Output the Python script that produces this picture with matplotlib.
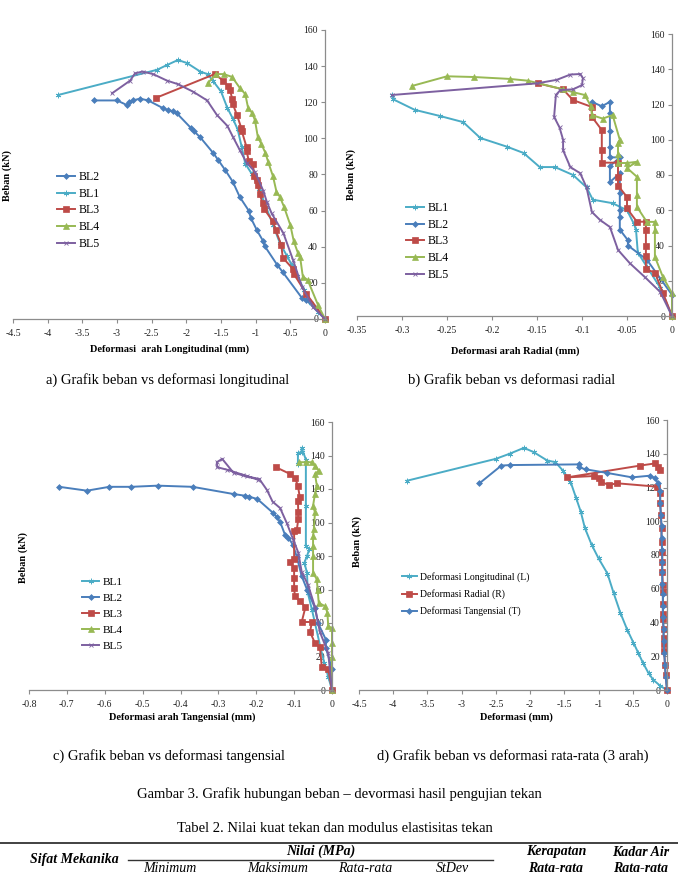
import matplotlib
matplotlib.use('Agg')
import matplotlib.pyplot as plt
from matplotlib.lines import Line2D

plt.rcParams['font.family'] = ['Liberation Serif', 'DejaVu Serif']

# ---- colours (Excel 2007 defaults)
c_blue = '#4a7ebb'
c_cyan = '#4bacc6'
c_red = '#be4b48'
c_green = '#98b954'
c_purple = '#7d60a0'

y_ticks = [0, 20, 40, 60, 80, 100, 120, 140, 160]

# ---- a) longitudinal
a_xticks = [-4.5, -4, -3.5, -3, -2.5, -2, -1.5, -1, -0.5, 0]
a_bl2_x = [-3.33, -3.0, -2.86, -2.83, -2.77, -2.67, -2.55, -2.34, -2.27, -2.19, -2.14, -1.93, -1.89, -1.8,
           -1.61, -1.54, -1.44, -1.33, -1.23, -1.1, -1.07, -0.98, -0.89, -0.87, -0.69, -0.61, -0.33, -0.27, 0]
a_bl2_y = [121, 121, 118.5, 120, 121, 122, 121, 116.8, 115.7, 115, 114, 105.6, 104, 100.6,
           91.8, 88, 82.5, 76, 67.6, 60, 56, 49, 43, 40.4, 30, 26, 11.5, 10.5, 0]
a_bl1_x = [-3.85, -2.42, -2.28, -2.12, -1.99, -1.8, -1.69, -1.62, -1.5, -1.41, -1.33, -1.26, -1.2, -1.15,
           -1.05, -0.95, -0.85, -0.75, -0.65, -0.55, -0.48, -0.4, -0.3, -0.2, -0.1, 0]
a_bl1_y = [124, 138, 140.6, 143.4, 141.7, 137, 135.5, 132, 126, 117, 111, 105, 95, 86,
           80, 72, 62, 52, 42, 35, 30, 24, 16, 9, 4, 0]
a_bl3_x = [-2.44, -1.59, -1.47, -1.4, -1.37, -1.34, -1.33, -1.27, -1.21, -1.2, -1.13, -1.13, -1.1, -1.04,
           -1.02, -0.98, -0.97, -0.94, -0.9, -0.88, -0.75, -0.71, -0.63, -0.61, -0.46, -0.45, -0.27, 0]
a_bl3_y = [122.4, 135.6, 132, 129, 127, 122, 119, 113, 106, 104, 95, 93, 87.5, 86,
           79, 77, 74, 69, 64, 61, 54, 49, 41, 34, 27.6, 25, 14, 0]
a_bl4_x = [-1.69, -1.57, -1.46, -1.34, -1.23, -1.15, -1.11, -1.05, -1.01, -0.97, -0.92, -0.86, -0.82,
           -0.75, -0.7, -0.65, -0.59, -0.5, -0.45, -0.39, -0.36, -0.32, -0.25, -0.1, 0]
a_bl4_y = [130.6, 135.6, 135.6, 134, 128, 124.5, 117, 114, 110, 101, 97, 92, 87,
           79, 70.5, 67.6, 62, 52, 43, 36.5, 34.6, 23.5, 21.6, 7.7, 0]
a_bl5_x = [-3.07, -2.81, -2.74, -2.63, -2.48, -2.28, -2.12, -1.9, -1.7, -1.56, -1.41, -1.33, -1.23,
           -1.13, -1.01, -0.89, -0.84, -0.77, -0.6, -0.46, -0.33, -0.17, 0]
a_bl5_y = [125, 132, 136, 137, 135.6, 132, 130, 125.8, 121, 113, 107, 101, 93.6,
           86.5, 81.5, 71, 65, 58.5, 47.5, 32.6, 17.7, 6.6, 0]

# ---- b) radial
b_xticks = [-0.35, -0.3, -0.25, -0.2, -0.15, -0.1, -0.05, 0]
b_bl1_x = [-0.311, -0.31, -0.286, -0.258, -0.232, -0.213, -0.183, -0.165, -0.147, -0.13, -0.11, -0.095,
           -0.088, -0.066, -0.05, -0.042, -0.04, -0.038, -0.028, -0.013, 0]
b_bl1_y = [125.4, 123, 117, 113.5, 110, 101, 96, 92.5, 84.5, 84.5, 80, 73,
           66, 64, 60, 52, 49, 36, 28, 16, 0]
b_bl2_x = [0, 0, -0.028, -0.049, -0.049, -0.058, -0.058, -0.058, -0.058, -0.058, -0.069, -0.069, -0.058,
           -0.069, -0.069, -0.069, -0.069, -0.069, -0.078, -0.089]
b_bl2_y = [0, 12, 32, 40, 43, 49, 56, 60, 70, 81, 76, 85, 90,
           90, 96, 105, 115, 121.5, 119, 121.5]
b_bl3_x = [-0.149, -0.121, -0.11, -0.089, -0.089, -0.078, -0.078, -0.078, -0.06, -0.06, -0.06, -0.05,
           -0.05, -0.039, -0.029, -0.029, -0.029, -0.029, -0.029, -0.019, -0.01, 0]
b_bl3_y = [132, 128.6, 122.5, 118.6, 113, 105.5, 94, 87, 87, 79, 74, 67.5,
           61, 53.5, 53.5, 49, 40, 34, 26.6, 24.6, 13, 0]
b_bl4_x = [-0.289, -0.25, -0.22, -0.18, -0.16, -0.121, -0.11, -0.097, -0.09, -0.089, -0.077, -0.066,
           -0.058, -0.06, -0.06, -0.06, -0.05, -0.039, -0.05, -0.039, -0.039, -0.039, -0.028, -0.019,
           -0.019, -0.019, -0.01, 0, 0]
b_bl4_y = [130.5, 136, 135.6, 134.5, 133.5, 128.6, 127, 125.4, 119, 114, 112, 114,
           100, 98, 92, 86.8, 86.8, 87.5, 84, 79, 68.6, 62, 53.4, 53.4,
           49, 33.6, 22, 13, 0]
b_bl5_x = [-0.311, -0.15, -0.128, -0.113, -0.102, -0.099, -0.1, -0.11, -0.124, -0.129, -0.131, -0.125,
           -0.121, -0.121, -0.113, -0.102, -0.095, -0.089, -0.08, -0.069, -0.06, -0.047, -0.03, -0.013, 0]
b_bl5_y = [125.4, 132, 134, 137, 137.3, 135, 131, 128.6, 128.2, 125.4, 113, 107,
           100, 94, 84.5, 81, 73, 59, 54.5, 50.5, 37.5, 30, 22, 13.6, 0]

# ---- c) tangential
c_xticks = [-0.8, -0.7, -0.6, -0.5, -0.4, -0.3, -0.2, -0.1, 0]
c_bl1_x = [0, -0.01, -0.02, -0.03, -0.045, -0.053, -0.064, -0.066, -0.073, -0.066, -0.06, -0.069,
           -0.069, -0.069, -0.08, -0.08, -0.09, -0.09]
c_bl1_y = [0, 8, 16, 25, 40, 48, 58, 70, 76, 80, 84, 86,
           110, 137.5, 144.6, 142, 141.6, 135]
c_bl2_x = [-0.72, -0.647, -0.588, -0.53, -0.46, -0.368, -0.26, -0.23, -0.22, -0.197, -0.156, -0.145,
           -0.137, -0.124, -0.115, -0.103, -0.093, -0.08, -0.066, -0.045, -0.037, -0.016, -0.016, 0, 0]
c_bl2_y = [121.3, 119, 121.3, 121.3, 122, 121.3, 117, 116, 115.5, 114, 105.8, 103,
           100.4, 92.6, 90.8, 86.7, 79.5, 68, 60, 49, 40, 30, 25, 12.6, 0]
c_bl3_x = [-0.148, -0.111, -0.098, -0.09, -0.085, -0.09, -0.089, -0.089, -0.093, -0.1, -0.1, -0.111,
           -0.1, -0.1, -0.1, -0.098, -0.085, -0.07, -0.08, -0.053, -0.058, -0.045, -0.032, -0.027, -0.01, 0]
c_bl3_y = [133, 129, 126.7, 122, 115, 113, 106, 102, 95.6, 95, 78, 76.5,
           73, 67, 61, 56, 53, 49.6, 40.6, 40.6, 34.7, 28, 25.7, 13.7, 12.5, 0]
c_bl4_x = [0, 0, 0, 0, -0.01, -0.012, -0.018, -0.035, -0.038, -0.04, -0.05, -0.05, -0.05,
           -0.05, -0.048, -0.045, -0.05, -0.045, -0.04, -0.045, -0.035, -0.045, -0.053, -0.069, -0.087]
c_bl4_y = [0, 20, 28, 37, 38, 46, 50, 52, 60, 66, 70, 80, 86,
           92, 96, 106, 110, 117, 122, 129, 131, 134, 136, 136, 136]
c_bl5_x = [0, -0.01, -0.032, -0.045, -0.063, -0.08, -0.089, -0.102, -0.12, -0.137, -0.157, -0.172,
           -0.192, -0.225, -0.26, -0.29, -0.304, -0.303, -0.277, -0.235, -0.195]
c_bl5_y = [0, 22, 34.7, 49.6, 62.6, 70.5, 82, 89.6, 100, 108.6, 112.5, 119.5,
           126, 127.5, 129.7, 138, 136, 133, 131.5, 128.5, 125.5]

# ---- d) average of 3 directions
d_xticks = [-4.5, -4, -3.5, -3, -2.5, -2, -1.5, -1, -0.5, 0]
d_long_x = [-3.8, -2.5, -2.3, -2.09, -1.95, -1.75, -1.63, -1.52, -1.41, -1.33, -1.26, -1.2, -1.1,
            -1.0, -0.87, -0.78, -0.68, -0.58, -0.49, -0.42, -0.35, -0.27, -0.2, -0.1, 0]
d_long_y = [124, 137, 140, 143.5, 141, 136, 135, 130, 123.5, 114, 105.7, 96, 86,
            78, 69, 57.5, 45.6, 35.6, 28, 22, 16, 10, 6, 2.5, 0]
d_rad_x = [0, -0.02, -0.03, -0.04, -0.05, -0.05, -0.05, -0.06, -0.06, -0.06, -0.06, -0.06, -0.07,
           -0.07, -0.07, -0.08, -0.08, -0.09, -0.1, -0.1, -0.15, -0.73, -0.85, -0.97, -1.0, -1.07,
           -1.46, -0.39, -0.17, -0.13, -0.1]
d_rad_y = [0, 9, 15, 23, 27, 31, 36, 42, 45, 51, 58, 62, 70,
           76, 82, 88, 96, 104, 111, 117, 120.5, 122.5, 121.5, 123.4, 125.4, 126.8,
           126, 133, 134.3, 132.3, 130.4]
d_tan_x = [-2.74, -2.42, -2.29, -1.29, -1.29, -1.19, -0.87, -0.51, -0.25, -0.17, -0.13, -0.1, -0.1,
           -0.09, -0.08, -0.08, -0.07, -0.07, -0.07, -0.07, -0.06, -0.06, -0.06, -0.05, -0.05, -0.04,
           -0.03, -0.02, 0]
d_tan_y = [122.5, 133, 133.3, 133.7, 132, 130.8, 128.6, 126, 127, 125.4, 122.5, 118, 111,
           104, 97, 90, 83, 76, 70, 63, 57, 50, 43, 36, 29, 22,
           15, 8, 0]

W, H = 678.0, 876.0
fig = plt.figure(figsize=(6.78, 8.76), dpi=100)


def px_axes(x0, y0, x1, y1):
    # pixel box (top-left origin) -> figure axes
    return fig.add_axes([x0 / W, 1 - y1 / H, (x1 - x0) / W, (y1 - y0) / H])


def setup(ax, xticks, xlabel, xl_pos, yl_pos):
    ax.set_xlim(xticks[0], 0)
    ax.set_ylim(0, 160)
    ax.spines['top'].set_visible(False)
    ax.spines['right'].set_visible(False)
    ax.spines['left'].set_position(('data', 0))
    for s in ('left', 'bottom'):
        ax.spines[s].set_color('#8c8c8c')
        ax.spines[s].set_linewidth(0.9)
    ax.set_xticks(xticks)
    ax.set_xticklabels(['%g' % t for t in xticks])
    ax.set_yticks(y_ticks)
    ax.set_yticklabels([str(t) for t in y_ticks])
    ax.tick_params(axis='both', labelsize=7, length=3, width=0.8, color='#8c8c8c', labelcolor='#222222')
    ax.tick_params(axis='x', pad=4)
    ax.tick_params(axis='y', pad=2)
    ax.set_axisbelow(True)
    ax.set_facecolor('none')
    ax.set_xlabel(xlabel, fontsize=7.5, fontweight='bold', va='center')
    ax.xaxis.set_label_coords(*xl_pos)
    ax.set_ylabel('Beban (kN)', fontsize=7.5, fontweight='bold', va='center')
    ax.yaxis.set_label_coords(*yl_pos)


styles = {
    'BL1': dict(color=c_cyan, marker=(6, 2, 0), ms=4, mew=0.6),
    'BL2': dict(color=c_blue, marker='D', ms=3, mew=0.5),
    'BL3': dict(color=c_red, marker='s', ms=4.5, mew=0.5),
    'BL4': dict(color=c_green, marker='^', ms=4.5, mew=0.5),
    'BL5': dict(color=c_purple, marker='x', ms=3.5, mew=0.6),
}


def series(ax, x, y, name, label=None):
    ax.plot(x, y, lw=1.4, label=label or name, clip_on=False, **styles[name])


def legend(ax, order, left_px, top_px, fs=8, spacing=0.45):
    h, l = ax.get_legend_handles_labels()
    d = dict(zip(l, h))
    ax.legend([d[k] for k in order], order, loc='upper left',
              bbox_to_anchor=(left_px / W, 1 - top_px / H), bbox_transform=fig.transFigure,
              frameon=False, fontsize=fs, handlelength=1.5, handletextpad=0.3,
              labelspacing=spacing, borderpad=0, borderaxespad=0, numpoints=1)


# a)
ax_a = px_axes(13, 30, 325, 319)
setup(ax_a, a_xticks, 'Deformasi  arah Longitudinal (mm)', (0.503, -0.104), (-0.019, 0.498))
series(ax_a, a_bl2_x, a_bl2_y, 'BL2')
series(ax_a, a_bl1_x, a_bl1_y, 'BL1')
series(ax_a, a_bl3_x, a_bl3_y, 'BL3')
series(ax_a, a_bl4_x, a_bl4_y, 'BL4')
series(ax_a, a_bl5_x, a_bl5_y, 'BL5')
legend(ax_a, ['BL2', 'BL1', 'BL3', 'BL4', 'BL5'], 57, 171, fs=8.5, spacing=0.4)

# b)
ax_b = px_axes(357, 34, 672, 316)
setup(ax_b, b_xticks, 'Deformasi arah Radial (mm)', (0.5016, -0.124), (-0.019, 0.5))
series(ax_b, b_bl1_x, b_bl1_y, 'BL1')
series(ax_b, b_bl2_x, b_bl2_y, 'BL2')
series(ax_b, b_bl3_x, b_bl3_y, 'BL3')
series(ax_b, b_bl4_x, b_bl4_y, 'BL4')
series(ax_b, b_bl5_x, b_bl5_y, 'BL5')
legend(ax_b, ['BL1', 'BL2', 'BL3', 'BL4', 'BL5'], 406, 202, fs=8.5, spacing=0.4)

# c)
ax_c = px_axes(29, 422, 332, 690)
setup(ax_c, c_xticks, 'Deformasi arah Tangensial (mm)', (0.505, -0.10), (-0.02, 0.496))
series(ax_c, c_bl1_x, c_bl1_y, 'BL1')
series(ax_c, c_bl2_x, c_bl2_y, 'BL2')
series(ax_c, c_bl3_x, c_bl3_y, 'BL3')
series(ax_c, c_bl4_x, c_bl4_y, 'BL4')
series(ax_c, c_bl5_x, c_bl5_y, 'BL5')
legend(ax_c, ['BL1', 'BL2', 'BL3', 'BL4', 'BL5'], 82, 577, fs=8.2, spacing=0.52)

# d)
ax_d = px_axes(359, 420, 667, 690)
setup(ax_d, d_xticks, 'Deformasi (mm)', (0.51, -0.10), (-0.006, 0.55))
ax_d.plot(d_long_x, d_long_y, lw=1.4, clip_on=False, label='Deformasi Longitudinal (L)',
          **styles['BL1'])
ax_d.plot(d_rad_x, d_rad_y, lw=1.4, clip_on=False, label='Deformasi Radial (R)',
          **styles['BL3'])
ax_d.plot(d_tan_x, d_tan_y, lw=1.4, clip_on=False, label='Deformasi Tangensial (T)',
          **styles['BL2'])
legend(ax_d, ['Deformasi Longitudinal (L)', 'Deformasi Radial (R)', 'Deformasi Tangensial (T)'],
       402, 572, fs=7, spacing=0.75)

# captions
cap = dict(fontsize=10.5, ha='center', va='center')
fig.text(168 / W, 1 - 380 / H, 'a) Grafik beban vs deformasi longitudinal', **cap)
fig.text(512 / W, 1 - 380 / H, 'b) Grafik beban vs deformasi radial', **cap)
fig.text(169 / W, 1 - 756 / H, 'c) Grafik beban vs deformasi tangensial', **cap)
fig.text(513 / W, 1 - 756 / H, 'd) Grafik beban vs deformasi rata-rata (3 arah)', **cap)
fig.text(339 / W, 1 - 794 / H, 'Gambar 3. Grafik hubungan beban \u2013 devormasi hasil pengujian tekan', **cap)
fig.text(335 / W, 1 - 828 / H, 'Tabel 2. Nilai kuat tekan dan modulus elastisitas tekan', **cap)

# table header (bottom row kept just inside the page edge)
fig.add_artist(Line2D([0, 1], [1 - 843 / H, 1 - 843 / H], transform=fig.transFigure, color='#333333', lw=1.3))
fig.add_artist(Line2D([128 / W, 493 / W], [1 - 860 / H, 1 - 860 / H], transform=fig.transFigure,
                      color='#333333', lw=1.0))
hdr = dict(fontsize=10, ha='center', va='center', fontweight='bold', style='italic')
fig.text(74 / W, 1 - 860 / H, 'Sifat Mekanika', **hdr)
fig.text(321 / W, 1 - 851 / H, 'Nilai (MPa)', **hdr)
fig.text(556 / W, 1 - 852 / H, 'Kerapatan', **hdr)
fig.text(556 / W, 1 - 868 / H, 'Rata-rata', **hdr)
fig.text(641 / W, 1 - 852 / H, 'Kadar Air', **hdr)
fig.text(641 / W, 1 - 868 / H, 'Rata-rata', **hdr)
sub = dict(fontsize=10, ha='center', va='center', style='italic')
fig.text(170 / W, 1 - 868 / H, 'Minimum', **sub)
fig.text(278 / W, 1 - 868 / H, 'Maksimum', **sub)
fig.text(365 / W, 1 - 868 / H, 'Rata-rata', **sub)
fig.text(452 / W, 1 - 868 / H, 'StDev', **sub)

fig.savefig('out.png', dpi=100)
